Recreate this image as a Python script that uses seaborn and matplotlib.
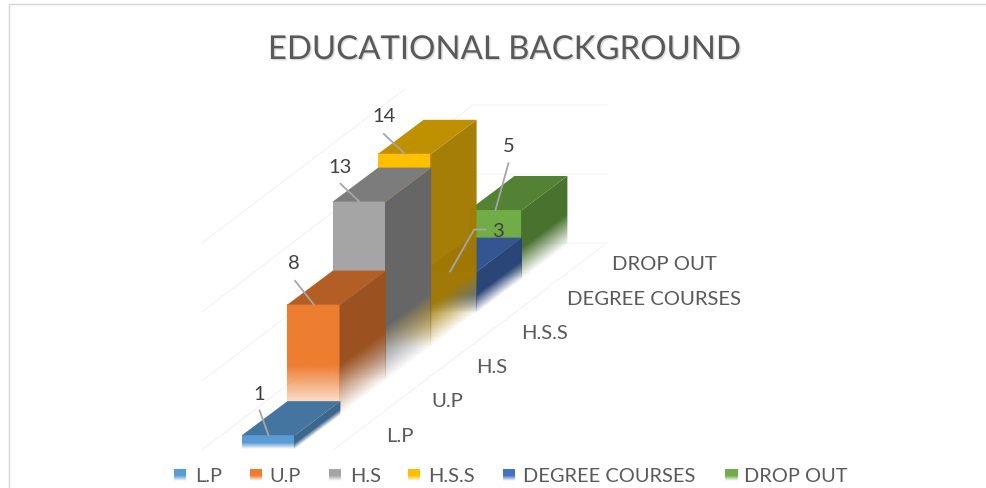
import numpy as np
import pandas as pd
import matplotlib
matplotlib.use("Agg")
import matplotlib.pyplot as plt
import matplotlib.patheffects as pe
from matplotlib.patches import Polygon
from matplotlib.transforms import Affine2D
from matplotlib.colors import to_rgb
import seaborn as sns

categories = ["L.P", "U.P", "H.S", "H.S.S", "DEGREE COURSES", "DROP OUT"]
values = [1, 8, 13, 14, 3, 5]
colors = ["#5B9BD5", "#ED7D31", "#A5A5A5", "#FFC000", "#4472C4", "#70AD47"]
grid_levels = [0, 5, 10, 15]

# layout constants (pixels)
W, H = 987, 488
PX0, PY0 = 268.5, 449.0      # front-bottom centre of the first bar
XU, YU = 45.4, 13.8          # pixels per category step / per value unit
DEPTH = 34.0 / YU            # vertical rise per category step, value units
BAR_W = 53.0 / XU

sns.set_theme(style="white")
plt.rcParams["font.family"] = ["Lato", "DejaVu Sans"]
fig = plt.figure(figsize=(W / 100, H / 100), dpi=100, facecolor="white")
ax = fig.add_axes([0, 0, 1, 1])

df = pd.DataFrame({"category": categories, "value": values})
sns.barplot(data=df, x="category", y="value", hue="category", order=categories,
            hue_order=categories, palette=colors, width=BAR_W, dodge=False,
            legend=False, ax=ax)


def set_limits():
    ax.set_xlim(-PX0 / XU, (W - PX0) / XU)
    ax.set_ylim((PY0 - H) / YU, PY0 / YU)


def to_data(px, py):
    return (px - PX0) / XU, (PY0 - py) / YU


def shade(color, k):
    return tuple(c * k for c in to_rgb(color))


set_limits()
ax.axis("off")

# faint walls and floor
grid_col = "#efefef"
for lv in grid_levels:
    dy = lv * YU
    if lv == 15:
        pts = [(202, 450 - dy), (405, 296 - dy)]
    else:
        pts = [(202, 450 - dy), (473, 243 - dy), (607, 243 - dy)]
    xs, ys = zip(*[to_data(*p) for p in pts])
    ax.plot(xs, ys, color=grid_col, lw=0.6, zorder=1)
xs, ys = zip(*[to_data(*p) for p in [(333, 450), (607, 243)]])
ax.plot(xs, ys, color=grid_col, lw=0.6, zorder=1)

# bars, drawn so that the two short rear bars sit under the tall ones
bars = {}
for patch in ax.patches:
    bars[int(round(patch.get_x() + patch.get_width() / 2))] = patch

draw_order = [5, 4, 3, 2, 1, 0]
side_alpha = [1, 1, 1, 0.975, 1, 1]
side_shade = [0.66, 0.66, 0.62, 0.64, 0.62, 0.66]
fade_cap = [55, 55, 55, 42, 55, 55]
for rank, i in enumerate(draw_order):
    v, col = values[i], colors[i]
    z = 10 + rank * 10
    patch = bars[i]
    T = Affine2D().translate(0, DEPTH * i) + ax.transData
    patch.set_transform(T)
    patch.set_alpha(0)
    xl, xr = patch.get_x(), patch.get_x() + patch.get_width()
    fade = min(0.45 * v, fade_cap[i] / YU)

    # front face, transparent towards the floor
    yy = np.linspace(0, v, 120)
    arr = np.zeros((120, 1, 4))
    arr[..., :3] = to_rgb(col)
    arr[:, 0, 3] = np.clip(yy / fade, 0, 1)
    ax.imshow(arr, extent=(xl, xr, 0, v), origin="lower", aspect="auto",
              transform=T, zorder=z + 1, interpolation="nearest")

    # side face
    seam = 0.02
    side_pts = [(xr - seam, 0), (xr - seam, v), (xr, v), (xr + 1, v + DEPTH),
                (xr + 1, DEPTH), (xr, 0)]
    gx = np.linspace(xr - seam, xr + 1, 160)
    gy = np.linspace(0, v + DEPTH, 400)
    X, Y = np.meshgrid(gx, gy)
    arr = np.zeros(X.shape + (4,))
    arr[..., :3] = shade(col, side_shade[i])
    arr[..., 3] = np.clip((Y - DEPTH * (X - xr)) / fade, 0, 1) * side_alpha[i]
    im = ax.imshow(arr, extent=(xr - seam, xr + 1, 0, v + DEPTH), origin="lower",
                   aspect="auto", transform=T, zorder=z + 2, interpolation="nearest")
    im.set_clip_path(Polygon(side_pts, closed=True, transform=T))

    # top face
    top = Polygon([(xl, v), (xr, v), (xr + 1, v + DEPTH), (xl + 1, v + DEPTH)],
                  closed=True, facecolor=shade(col, 0.75), edgecolor="none",
                  transform=T, zorder=z + 3)
    ax.add_patch(top)
set_limits()

text_col = "#595959"
lead_col = "#A6A6A6"
# value labels with leader lines: offsets from the top-front centre, pixels
leaders = [[(-9, -25)], [(-19, -24)], [(-19, -18)], [(-21, -20)],
           [(24, -42), (36, -42)], [(13, -47)]]
label_pos = [(-9, -41), (-20, -41), (-19, -34), (-21, -37), (48, -40), (13, -64)]
for i, v in enumerate(values):
    ax_px = PX0 + XU * i
    ay_px = PY0 - DEPTH * YU * i - v * YU
    path = [(ax_px, ay_px)] + [(ax_px + dx, ay_px + dy) for dx, dy in leaders[i]]
    xs, ys = zip(*[to_data(*p) for p in path])
    ax.plot(xs, ys, color=lead_col, lw=1.3, zorder=100)
    lx, ly = to_data(ax_px + label_pos[i][0], ay_px + label_pos[i][1])
    ax.text(lx, ly, str(v), ha="center", va="center", fontsize=14.5,
            color="#404040", zorder=101)

# category labels along the floor
for i, name in enumerate(categories):
    lx, ly = to_data(386 + 45.2 * i, 436 - 34.2 * i)
    ax.text(lx, ly, name, ha="left", va="center", fontsize=14.6, color=text_col, zorder=101)

# title
tx, ty = to_data(504, 50)
ax.text(tx, ty, "EDUCATIONAL BACKGROUND", ha="center", va="center", fontsize=23.7,
        color=text_col, zorder=101,
        path_effects=[pe.withSimplePatchShadow(offset=(1, -1), alpha=0.3, shadow_rgbFace="#888888")])

# legend
legend_x = [174, 250, 329, 408, 503, 725]
legend_text = [195, 269, 350, 428, 523, 744]
for mx, tx_, name, col in zip(legend_x, legend_text, categories, colors):
    x0, y1 = to_data(mx, 481)
    x1, y0 = to_data(mx + 12, 469)
    arr = np.zeros((40, 1, 4))
    arr[..., :3] = to_rgb(col)
    arr[:, 0, 3] = np.clip(np.linspace(0, 1, 40) / 0.45, 0, 1)
    ax.imshow(arr, extent=(x0, x1, y1, y0), origin="lower", aspect="auto",
              zorder=101, interpolation="bilinear")
    lx, ly = to_data(tx_, 477)
    ax.text(lx, ly, name, ha="left", va="center", fontsize=14.4, color=text_col, zorder=101)

# chart frame
xs, ys = zip(*[to_data(*p) for p in [(8.5, 488), (8.5, 3.5), (987, 3.5)]])
ax.plot(xs, ys, color="#D4D4D4", lw=1.0, zorder=2, clip_on=True)
set_limits()

fig.savefig("out.png", dpi=100, facecolor="white")
